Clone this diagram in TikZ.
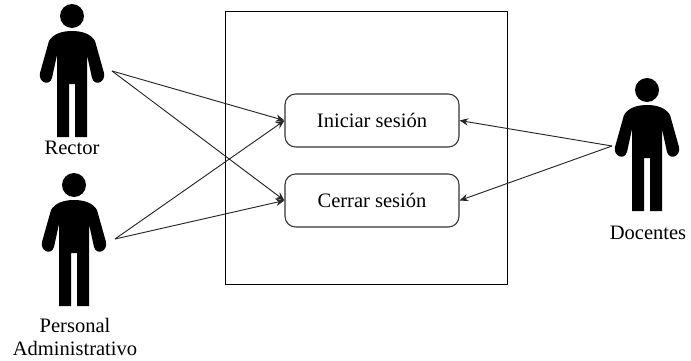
\documentclass[tikz,border=0pt]{standalone}
\usepackage{fontspec}
\setmainfont{Liberation Serif}
\usetikzlibrary{arrows.meta}
\tikzset{
  actor/.pic={
    % Head
    \fill (0,0) circle (12);
    % Body, arms and legs
    \fill (0,15) .. controls (-10,15) and (-19,18) .. (-23,25)
      -- (-32,57) .. controls (-34,66) and (-23,71) .. (-20,62)
      -- (-15,39) -- (-15,121) -- (-3,121) -- (-3,68) -- (3,68) -- (3,121)
      -- (15,121) -- (15,39) -- (20,62)
      .. controls (23,71) and (34,66) .. (32,57)
      -- (23,25) .. controls (19,18) and (10,15) .. (0,15) -- cycle;
  },
  usecase/.style={draw=black!80, line width=0.8pt, rounded corners=8pt, minimum width=130.5pt, minimum height=39.75pt, inner sep=0pt},
  actorlabel/.style={inner sep=0pt, align=center},
  assoc/.style={-{Stealth[length=6.5pt,width=5.5pt]}, draw=black!85, line width=0.7pt}
}

\begin{document}
\begin{tikzpicture}[x=0.75pt, y=-0.75pt, font=\fontsize{15.4}{17.25}\selectfont]
  \useasboundingbox (0,0) rectangle (691,360);

  % Draw the system boundary
  \node[draw, line width=0.7pt, minimum width=211.5pt, minimum height=204.75pt, inner sep=0pt] (sistema) at (366,147.5) {};

  % Draw the use cases
  \node[usecase] (iniciar) at (372,120.5) {Iniciar sesión};
  \node[usecase] (cerrar) at (372,200.5) {Cerrar sesión};

  % Draw the actors
  \pic at (72,16) {actor};
  \pic at (74,185) {actor};
  \pic at (647,90) {actor};

  % Label the actors
  \node[actorlabel] (rector) at (72,148) {Rector};
  \node[actorlabel] (personal) at (75,337) {Personal\\Administrativo};
  \node[actorlabel] (docentes) at (648,233) {Docentes};

  % Free ends of the lines
  \coordinate (R) at (112,71);
  \coordinate (P) at (115,239);
  \coordinate (D) at (612,146);

  % Draw the lines to the use cases
  \draw[assoc] (R) -- (iniciar.west);
  \draw[assoc] (R) -- (cerrar.west);
  \draw[assoc] (P) -- (iniciar.west);
  \draw[assoc] (P) -- (cerrar.west);
  \draw[assoc] (D) -- (iniciar.east);
  \draw[assoc] (D) -- (cerrar.east);
\end{tikzpicture}
\end{document}
